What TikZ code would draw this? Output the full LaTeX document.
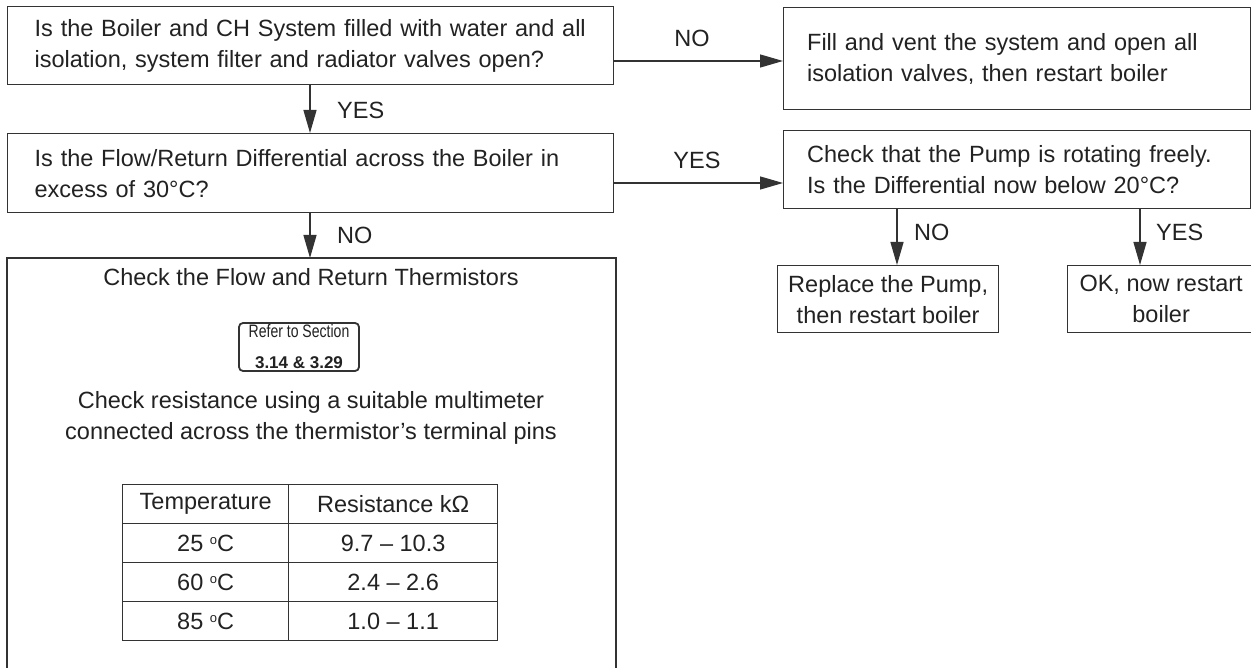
\documentclass[tikz,border=0pt]{standalone}
\usepackage{fontspec}
\setmainfont{Liberation Sans}
\usepackage{graphicx}
\usetikzlibrary{arrows.meta}
\definecolor{ln}{HTML}{333333}
\definecolor{tx}{HTML}{222222}
\newcommand{\degc}{\raisebox{7pt}{\fontsize{13}{13}\selectfont o}C}
\begin{document}
\begin{tikzpicture}[x=1pt,y=-1pt,
  every node/.style={text=tx,font=\fontsize{23.5}{31}\selectfont},
  box/.style={draw=ln,line width=1.3pt,anchor=north west,inner sep=0pt},
  lbl/.style={inner sep=0pt},
  arr/.style={draw=ln,line width=1.3pt,-{Triangle[length=23pt,width=13pt]}},
  cell/.style={draw=ln,line width=1.3pt,minimum height=39pt,inner sep=0pt,anchor=north west}]
\useasboundingbox (0,0) rectangle (1251,668);
\fill[white] (0,0) rectangle (1251,668);
% left column
\node[box,minimum width=606pt,minimum height=78pt,text width=552pt,align=left] (b1) at (7,6)
  {Is the Boiler and CH System filled with water and all\\isolation, system filter and radiator valves open?};
\node[box,minimum width=606pt,minimum height=79pt,text width=552pt,align=left] (b2) at (7,133)
  {Is the Flow/Return Differential across the Boiler in\\excess of 30°C?};
% right column
\node[box,minimum width=467pt,minimum height=102pt,text width=420pt,align=left] (fill) at (783,7)
  {Fill and vent the system and open all\\isolation valves, then restart boiler};
\node[box,minimum width=467pt,minimum height=78pt,text width=420pt,align=left] (pump) at (783,130)
  {Check that the Pump is rotating freely.\\Is the Differential now below 20°C?};
\node[box,minimum width=221pt,minimum height=67pt,align=center] (repl) at (777,265)
  {Replace the Pump,\\then restart boiler};
\node[box,minimum width=187pt,minimum height=67pt,align=center] (ok) at (1067,265)
  {OK, now restart\\boiler};
% box 3 (open at bottom)
\coordinate (b3nw) at (7,258);
\coordinate (b3ne) at (616,258);
\draw[ln,line width=1.3pt] (b3nw |- 0,668) -- (b3nw) -- (b3ne) -- (b3ne |- 0,668);
\node[lbl] (t3) at (311,277) {Check the Flow and Return Thermistors};
\node[draw=ln,line width=1.8pt,rounded corners=4pt,minimum width=120pt,minimum height=48pt,inner sep=0pt,align=center] (ref) at (299,347)
  {\scalebox{0.78}[1]{\fontsize{18}{20}\selectfont Refer to Section}\\[0pt]{\fontsize{17}{20}\selectfont\bfseries 3.14 \& 3.29}};
\node[lbl,align=center] (t4) at (311,418) {Check resistance using a suitable multimeter\\connected across the thermistor’s terminal pins};
% table
\node[cell,minimum width=166pt] (h1) at (122,484) {Temperature};
\node[cell,minimum width=209pt] (h2) at (288,484) {Resistance kΩ};
\node[cell,minimum width=166pt] (r1a) at (122,523) {25 \degc};
\node[cell,minimum width=209pt] (r1b) at (288,523) {9.7 – 10.3};
\node[cell,minimum width=166pt] (r2a) at (122,562) {60 \degc};
\node[cell,minimum width=209pt] (r2b) at (288,562) {2.4 – 2.6};
\node[cell,minimum width=166pt] (r3a) at (122,601) {85 \degc};
\node[cell,minimum width=209pt] (r3b) at (288,601) {1.0 – 1.1};
% connectors
\coordinate (a1) at (310,0);
\draw[arr] (a1 |- b1.south) -- (a1 |- b2.north);
\node[lbl,anchor=west] (yes1) at (337,110) {YES};
\draw[arr] (a1 |- b2.south) -- (a1 |- b3nw);
\node[lbl,anchor=west] (no1) at (337,235) {NO};
\coordinate (y1) at (0,61);
\draw[arr] (b1.east |- y1) -- (fill.west |- y1);
\node[lbl] (no2) at (692,38) {NO};
\coordinate (y2) at (0,183);
\draw[arr] (b2.east |- y2) -- (pump.west |- y2);
\node[lbl] (yes2) at (697,160) {YES};
\coordinate (x1) at (897,0);
\coordinate (x2) at (1140,0);
\draw[arr] (x1 |- pump.south) -- (x1 |- repl.north);
\node[lbl,anchor=west] (no3) at (914,232) {NO};
\draw[arr] (x2 |- pump.south) -- (x2 |- ok.north);
\node[lbl,anchor=west] (yes3) at (1156,232) {YES};
\end{tikzpicture}
\end{document}
